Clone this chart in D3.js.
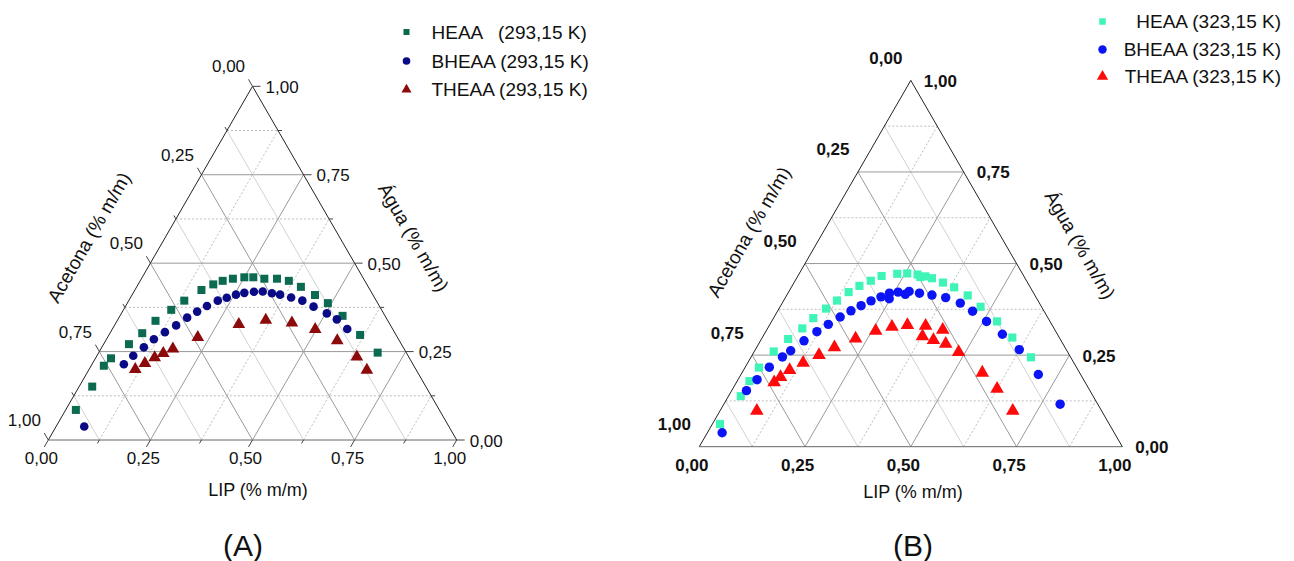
<!DOCTYPE html>
<html><head><meta charset="utf-8">
<script src="https://cdn.jsdelivr.net/npm/d3@7"></script>
<style>
body{margin:0;background:#fff}
svg text{font-family:"Liberation Sans",Arial,sans-serif;fill:#111}
</style>
</head><body>
<svg id="chart" width="1294" height="561"></svg>
<script>
// ---- tick values / labels ----
const tickValues = [0, 0.25, 0.5, 0.75, 1];
const tickLabels = ["0,00", "0,25", "0,50", "0,75", "1,00"];
const majorGrid = [0.25, 0.5, 0.75];
const minorGrid = [0.125, 0.375, 0.625, 0.875];

// ---- data: [LIP, Acetona, Água] mass fractions ----
const heaa293 = [[0.025,0.890,0.085],[0.032,0.817,0.151],[0.031,0.759,0.210],[0.038,0.731,0.231],[0.062,0.667,0.271],[0.079,0.619,0.302],[0.094,0.569,0.337],[0.117,0.515,0.368],[0.136,0.470,0.394],[0.163,0.413,0.424],[0.184,0.376,0.440],[0.202,0.348,0.450],[0.224,0.320,0.456],[0.250,0.290,0.460],[0.272,0.268,0.460],[0.301,0.243,0.456],[0.332,0.212,0.456],[0.364,0.186,0.450],[0.402,0.165,0.433],[0.448,0.142,0.410],[0.491,0.122,0.387],[0.545,0.104,0.351],[0.615,0.088,0.297],[0.683,0.070,0.247]];
const bheaa293 = [[0.069,0.893,0.038],[0.078,0.708,0.214],[0.089,0.673,0.238],[0.103,0.635,0.262],[0.116,0.599,0.285],[0.133,0.562,0.305],[0.151,0.525,0.324],[0.167,0.487,0.346],[0.183,0.454,0.363],[0.199,0.422,0.379],[0.218,0.388,0.394],[0.236,0.362,0.402],[0.254,0.335,0.411],[0.272,0.312,0.416],[0.294,0.287,0.419],[0.315,0.265,0.420],[0.340,0.245,0.415],[0.362,0.227,0.411],[0.393,0.204,0.403],[0.425,0.181,0.394],[0.461,0.162,0.377],[0.503,0.139,0.358],[0.536,0.123,0.341],[0.575,0.111,0.314]];
const theaa293 = [[0.113,0.687,0.200],[0.128,0.655,0.217],[0.144,0.623,0.233],[0.159,0.596,0.245],[0.176,0.566,0.258],[0.221,0.489,0.290],[0.303,0.370,0.327],[0.363,0.298,0.339],[0.431,0.238,0.331],[0.497,0.190,0.313],[0.567,0.152,0.281],[0.638,0.127,0.235],[0.681,0.121,0.198]];

const heaa323 = [[0.018,0.920,0.062],[0.029,0.833,0.138],[0.029,0.792,0.179],[0.033,0.751,0.216],[0.046,0.694,0.260],[0.063,0.643,0.294],[0.082,0.595,0.323],[0.094,0.555,0.351],[0.111,0.512,0.377],[0.126,0.475,0.399],[0.142,0.436,0.422],[0.159,0.402,0.439],[0.179,0.368,0.453],[0.198,0.336,0.466],[0.232,0.296,0.472],[0.255,0.272,0.473],[0.281,0.249,0.470],[0.291,0.246,0.463],[0.302,0.233,0.465],[0.320,0.220,0.460],[0.352,0.200,0.448],[0.385,0.180,0.435],[0.428,0.159,0.413],[0.474,0.144,0.382],[0.533,0.125,0.342],[0.591,0.111,0.298],[0.662,0.094,0.244]];
const bheaa323 = [[0.035,0.927,0.038],[0.035,0.812,0.153],[0.045,0.772,0.183],[0.057,0.726,0.217],[0.074,0.681,0.245],[0.085,0.653,0.262],[0.103,0.608,0.289],[0.121,0.565,0.314],[0.138,0.528,0.334],[0.156,0.490,0.354],[0.173,0.456,0.371],[0.190,0.425,0.385],[0.207,0.395,0.398],[0.225,0.366,0.409],[0.240,0.341,0.419],[0.247,0.349,0.404],[0.259,0.319,0.422],[0.279,0.305,0.416],[0.284,0.292,0.424],[0.311,0.270,0.419],[0.343,0.243,0.414],[0.379,0.214,0.407],[0.421,0.187,0.392],[0.461,0.169,0.370],[0.508,0.150,0.342],[0.563,0.130,0.307],[0.624,0.111,0.265],[0.703,0.100,0.197],[0.795,0.089,0.116]];
const theaa323 = [[0.087,0.815,0.098],[0.089,0.735,0.176],[0.097,0.713,0.190],[0.109,0.682,0.209],[0.131,0.640,0.229],[0.158,0.592,0.250],[0.184,0.545,0.271],[0.222,0.483,0.295],[0.259,0.425,0.316],[0.292,0.381,0.327],[0.326,0.342,0.332],[0.370,0.300,0.330],[0.416,0.265,0.319],[0.377,0.322,0.301],[0.408,0.301,0.291],[0.442,0.277,0.281],[0.484,0.258,0.258],[0.568,0.230,0.202],[0.625,0.217,0.158],[0.692,0.210,0.098]];

const seriesNames = ["HEAA", "BHEAA", "THEAA"];

const panels = [
  { left:48.3, bottom:440, side:408.4, ticks:true, bold:false,
    series:[heaa293,bheaa293,theaa293],
    colors:["#0b6a4f","#0a0a86","#8c0a0a"],
    labels:["HEAA   (293,15 K)","BHEAA (293,15 K)","THEAA (293,15 K)"],
    legend:{mx:406.5, ys:[32,61,89.5], tx:431.5, anchor:"start", sizes:[36,46,44]},
    leftOff:[-24,-19.5], bottomOff:[-7,18], rightOff:13,
    titles:{lip:[258,490], ace:[89,237.5], agua:[413.5,237.5]}, tag:[243,545], tagText:"(A)" },
  { left:699.3, bottom:446.7, side:423, ticks:false, bold:true,
    series:[heaa323,bheaa323,theaa323],
    colors:["#3ef4b6","#0a14f5","#ff0a0a"],
    labels:["HEAA (323,15 K)","BHEAA (323,15 K)","THEAA (323,15 K)"],
    legend:{mx:1102.5, ys:[21.5,49.5,76.5], tx:1281, anchor:"end", sizes:[42,56,56]},
    leftOff:[-25,-22], bottomOff:[-7.5,18.5], rightOff:13,
    titles:{lip:[913,492], ace:[749,232], agua:[1080,245]}, tag:[913,545], tagText:"(B)" }
];

const svg = d3.select("#chart");
const symbols = [d3.symbolSquare, d3.symbolCircle, d3.symbolTriangle];
const markerSizes = [[64,58,70],[66,70,80]];

panels.forEach((p, pi) => {
  const h = p.side*Math.sqrt(3)/2;
  const xs = d3.scaleLinear().domain([0,1]).range([p.left, p.left+p.side]);
  const ys = d3.scaleLinear().domain([0,1]).range([p.bottom, p.bottom-h]);
  // projection from (LIP, Água)
  const P = (lip, agua) => [xs(lip + agua/2), ys(agua)];
  const g = svg.append("g");
  const line = (a, b, stroke, dash, w) => g.append("line")
      .attr("x1",a[0]).attr("y1",a[1]).attr("x2",b[0]).attr("y2",b[1])
      .attr("stroke",stroke).attr("stroke-width",w||1).attr("stroke-dasharray",dash||null);

  // minor grid
  minorGrid.forEach(c => {
    line(P(0,c), P(1-c,c), "#bdbdbd", "2,2");           // constant Água
    line(P(c,0), P(c,1-c), "#bdbdbd", "2,2");           // constant LIP
    line(P(1-c,0), P(0,1-c), "#d2d2d2");                // constant Acetona
  });
  // major grid
  majorGrid.forEach(c => {
    line(P(0,c), P(1-c,c), "#9a9a9a");
    line(P(c,0), P(c,1-c), "#9a9a9a");
    line(P(1-c,0), P(0,1-c), "#9a9a9a");
  });
  // triangle edges
  line(P(0,0), P(1,0), "#666");
  line(P(0,0), P(0,1), "#222");
  line(P(1,0), P(0,1), "#222");

  // ticks (panel A only)
  if (p.ticks) {
    const s3 = Math.sqrt(3)/2;
    const allT = tickValues.concat(minorGrid);
    allT.forEach(c => {
      const L = minorGrid.includes(c) ? 4 : 8;
      const b = P(c,0); line(b, [b[0]-0.5*L, b[1]+s3*L], "#444");
      const r = P(1-c,c); line(r, [r[0]+L, r[1]], "#444");
      const l = P(0,1-c); line(l, [l[0]-0.5*L, l[1]-s3*L], "#444");
    });
  }

  const fw = p.bold ? "bold" : "normal";
  tickValues.forEach((c, i) => {
    const b = P(c,0);
    g.append("text").attr("x", b[0]+p.bottomOff[0]).attr("y", b[1]+p.bottomOff[1])
      .attr("text-anchor","middle").attr("dominant-baseline","central")
      .attr("font-size",17).attr("font-weight",fw).text(tickLabels[i]);
    const r = P(1-c,c);
    g.append("text").attr("x", r[0]+p.rightOff).attr("y", r[1]+1)
      .attr("text-anchor","start").attr("dominant-baseline","central")
      .attr("font-size",17).attr("font-weight",fw).text(tickLabels[i]);
    const l = P(0,1-c);
    g.append("text").attr("x", l[0]+p.leftOff[0]).attr("y", l[1]+p.leftOff[1])
      .attr("text-anchor","middle").attr("dominant-baseline","central")
      .attr("font-size",17).attr("font-weight",fw).text(tickLabels[i]);
  });

  // axis titles
  const t = p.titles;
  g.append("text").attr("x",t.lip[0]).attr("y",t.lip[1]).attr("text-anchor","middle")
    .attr("dominant-baseline","central").attr("font-size",18).text("LIP (% m/m)");
  g.append("text").attr("transform",`translate(${t.ace[0]},${t.ace[1]}) rotate(-60)`)
    .attr("text-anchor","middle").attr("dominant-baseline","central").attr("font-size",19).text("Acetona (% m/m)");
  g.append("text").attr("transform",`translate(${t.agua[0]},${t.agua[1]}) rotate(60)`)
    .attr("text-anchor","middle").attr("dominant-baseline","central").attr("font-size",19).text("Água (% m/m)");
  g.append("text").attr("x",p.tag[0]).attr("y",p.tag[1]).attr("text-anchor","middle")
    .attr("dominant-baseline","central").attr("font-size",30).text(p.tagText);

  // data points
  p.series.forEach((data, si) => {
    g.append("g").selectAll("path").data(data).join("path")
      .attr("transform", d => { const q = P(d[0], d[2]); return `translate(${q[0]},${q[1]})`; })
      .attr("d", d3.symbol().type(symbols[si]).size(markerSizes[pi][si]))
      .attr("fill", p.colors[si]);
  });

  // legend
  const lg = p.legend;
  p.labels.forEach((lab, si) => {
    g.append("path").attr("transform",`translate(${lg.mx},${lg.ys[si]})`)
      .attr("d", d3.symbol().type(symbols[si]).size(lg.sizes[si])).attr("fill", p.colors[si]);
    g.append("text").attr("x",lg.tx).attr("y",lg.ys[si]).attr("text-anchor",lg.anchor)
      .attr("dominant-baseline","central").attr("font-size",19)
      .style("white-space","pre").text(lab);
  });
});
</script>
</body></html>
